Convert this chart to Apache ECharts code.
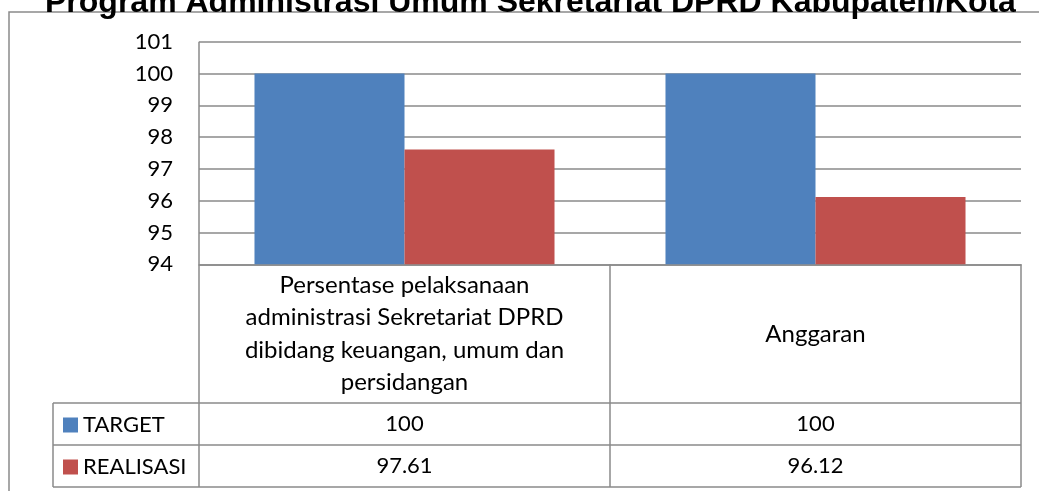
<!DOCTYPE html>
<html>
<head>
<meta charset="utf-8">
<title>Program Administrasi Umum Sekretariat DPRD Kabupaten/Kota</title>
<script src="https://cdn.jsdelivr.net/npm/echarts@6/dist/echarts.min.js"></script>
<style>
    html, body { margin: 0; padding: 0; background: #fff; }
    #chart { width: 1039px; height: 491px; }
</style>
</head>
<body>
<div id="chart"></div>
<script>
// data
var titleText = "Program Administrasi Umum Sekretariat DPRD Kabupaten/Kota";
var categories = ["Persentase pelaksanaan\nadministrasi Sekretariat DPRD\ndibidang keuangan, umum dan\npersidangan", "Anggaran"];
var seriesNames = ["TARGET", "REALISASI"];
var seriesColors = ["#4f81bd", "#c0504d"];
var targetValues = [100, 100];
var realisasiValues = [97.61, 96.12];
var yTicks = [94, 95, 96, 97, 98, 99, 100, 101];

var lineColor = "#8a8a8a";
var textFont = "Lato";

var myChart = echarts.init(document.getElementById("chart"));

// garis tabel data di bawah sumbu
function tableLine(x1, y1, x2, y2) {
    return {
        type: "line",
        shape: { x1: x1, y1: y1, x2: x2, y2: y2 },
        style: { stroke: lineColor, lineWidth: 1.5 },
        silent: true
    };
}

// sumbu x tambahan untuk baris nilai tabel
function valueAxis(values, margin) {
    return {
        type: "category",
        data: categories,
        position: "bottom",
        axisLine: { show: false },
        axisTick: { show: false },
        axisLabel: {
            interval: 0,
            margin: margin,
            verticalAlign: "middle",
            fontFamily: textFont,
            fontSize: 22,
            color: "#000",
            formatter: function (v, i) { return String(values[i]); }
        }
    };
}

// satu legenda per baris tabel
function legendRow(idx, top) {
    return {
        left: 63,
        top: top,
        padding: 0,
        itemWidth: 15,
        itemHeight: 15,
        icon: "rect",
        data: [seriesNames[idx]],
        textStyle: { fontFamily: textFont, fontSize: 22, color: "#000" }
    };
}

myChart.setOption({
    animation: false,
    title: {
        text: titleText,
        left: 45,
        top: -13,
        padding: 0,
        textStyle: { fontFamily: "Liberation Sans", fontWeight: "bold", fontSize: 32, color: "#000" }
    },
    legend: [legendRow(0, 414), legendRow(1, 456)],
    grid: { left: 199, right: 18, top: 41.7, bottom: 226.7 },
    xAxis: [
        {
            type: "category",
            data: categories,
            position: "bottom",
            axisLine: { lineStyle: { color: lineColor, width: 1.5 } },
            axisTick: { show: false },
            axisLabel: {
                interval: 0,
                margin: 69.5,
                verticalAlign: "middle",
                align: "center",
                fontFamily: textFont,
                fontSize: 24,
                lineHeight: 32.5,
                color: "#000"
            }
        },
        valueAxis(targetValues, 160),
        valueAxis(realisasiValues, 202)
    ],
    yAxis: {
        type: "value",
        min: yTicks[0],
        max: yTicks[yTicks.length - 1],
        interval: 1,
        axisLine: { show: false },
        axisTick: { show: false },
        splitLine: { lineStyle: { color: lineColor, width: 1.5 } },
        axisLabel: { margin: 26, fontFamily: textFont, fontSize: 22, color: "#000" }
    },
    series: [
        {
            name: seriesNames[0],
            type: "bar",
            data: targetValues,
            itemStyle: { color: seriesColors[0] },
            barGap: "0%",
            barCategoryGap: "27%"
        },
        {
            name: seriesNames[1],
            type: "bar",
            data: realisasiValues,
            itemStyle: { color: seriesColors[1] },
            barGap: "0%",
            barCategoryGap: "27%"
        }
    ],
    graphic: [
        // bingkai luar
        {
            type: "rect",
            shape: { x: 9, y: 12, width: 1100, height: 600 },
            style: { fill: "none", stroke: lineColor, lineWidth: 1.5 },
            silent: true,
            z: -1
        },
        // sumbu y dan kolom tabel
        tableLine(199, 41.7, 199, 487),
        tableLine(610, 264.3, 610, 487),
        tableLine(1021, 264.3, 1021, 487),
        tableLine(53, 403, 53, 487),
        tableLine(53, 403, 1021, 403),
        tableLine(53, 445, 1021, 445),
        tableLine(53, 487, 1021, 487)
    ]
});
</script>
</body>
</html>
